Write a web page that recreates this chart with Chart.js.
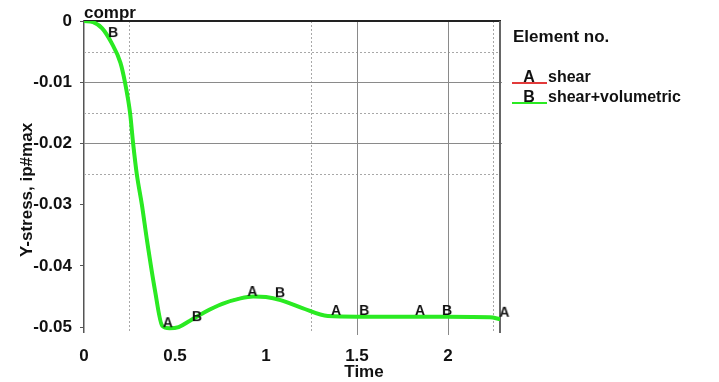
<!DOCTYPE html>
<html>
<head>
<meta charset="utf-8">
<script src="https://cdn.jsdelivr.net/npm/chart.js@4"></script>
<style>
  body { margin: 0; background: #fff; }
  #wrap { position: relative; width: 719px; height: 382px; }
</style>
</head>
<body>
<div id="wrap"><canvas id="chart"></canvas></div>
<script>
// curve values (time, Y-stress)
const timeValues = [0, 0.05, 0.1, 0.15, 0.2, 0.225, 0.253, 0.27, 0.29, 0.318, 0.346, 0.39, 0.43, 0.47, 0.52, 0.58, 0.66, 0.76, 0.86, 0.93, 1.0, 1.08, 1.2, 1.34, 1.5, 1.8, 2.0, 2.23, 2.29];
const stressValues = [0, -0.0002, -0.0012, -0.0035, -0.0068, -0.01, -0.015, -0.02, -0.025, -0.03, -0.0358, -0.044, -0.0498, -0.0502, -0.0500, -0.0490, -0.0476, -0.0462, -0.0453, -0.0450, -0.0451, -0.0456, -0.0469, -0.0482, -0.0483, -0.0483, -0.0483, -0.0484, -0.0487];

// letter markers along the curves
const markerATime = [0.46, 0.925, 1.385, 1.846, 2.31];
const markerAStress = [-0.0492, -0.0441, -0.0472, -0.0472, -0.0475];
const markerBTime = [0.16, 0.62, 1.077, 1.54, 1.995];
const markerBStress = [-0.0018, -0.0482, -0.0443, -0.0472, -0.0472];

const xTicks = [0, 0.5, 1, 1.5, 2];
const xTickLabels = ['0', '0.5', '1', '1.5', '2'];
const yTicks = [0, -0.01, -0.02, -0.03, -0.04, -0.05];
const yTickLabels = ['0', '-0.01', '-0.02', '-0.03', '-0.04', '-0.05'];

const xSolidGrid = [1.5, 2];
const xDotGrid = [0.25, 1.25, 2.25];
const ySolidGrid = [-0.01, -0.02];
const yDotGrid = [-0.005, -0.015, -0.025];

const seriesNames = ['shear', 'shear+volumetric'];
const seriesLetters = ['A', 'B'];

const colors = {
    red: '#e23a3a',
    green: '#2aea22',
    text: '#111111',
    axis: '#555555',
    grid: '#8a8a8a',
    dots: '#a8a8a8'
};
const FONT = '"Liberation Sans", Arial, sans-serif';

// letter used as point style
function letterImage(ch) {
    const c = document.createElement('canvas');
    c.width = 14; c.height = 14;
    const g = c.getContext('2d');
    g.fillStyle = colors.text;
    g.font = 'bold 14px ' + FONT;
    g.textAlign = 'center';
    g.textBaseline = 'middle';
    g.fillText(ch, 7, 8);
    return c;
}

function toPoints(xs, ys) {
    return xs.map((x, i) => ({ x: x, y: ys[i] }));
}

// grid, frame, titles and the legend block
const decorPlugin = {
    id: 'decor',
    beforeDatasetsDraw(chart) {
        const ctx = chart.ctx;
        const a = chart.chartArea;
        const xs = chart.scales.x, ys = chart.scales.y;
        ctx.save();
        ctx.lineWidth = 1;
        ctx.strokeStyle = colors.dots;
        ctx.setLineDash([2, 2]);
        yDotGrid.forEach(v => {
            const y = Math.round(ys.getPixelForValue(v)) + 0.5;
            ctx.beginPath(); ctx.moveTo(a.left, y); ctx.lineTo(a.right, y); ctx.stroke();
        });
        xDotGrid.forEach(v => {
            const x = Math.round(xs.getPixelForValue(v)) + 0.5;
            ctx.beginPath(); ctx.moveTo(x, a.top); ctx.lineTo(x, a.bottom - 1); ctx.stroke();
        });
        ctx.setLineDash([]);
        ctx.strokeStyle = colors.grid;
        ySolidGrid.forEach(v => {
            const y = Math.round(ys.getPixelForValue(v)) + 0.5;
            ctx.beginPath(); ctx.moveTo(a.left, y); ctx.lineTo(a.right + 2, y); ctx.stroke();
        });
        xSolidGrid.forEach(v => {
            const x = Math.round(xs.getPixelForValue(v)) + 0.5;
            ctx.beginPath(); ctx.moveTo(x, a.top); ctx.lineTo(x, a.bottom + 3); ctx.stroke();
        });
        // frame: top black, right grey
        ctx.strokeStyle = '#222';
        ctx.lineWidth = 2;
        ctx.beginPath(); ctx.moveTo(a.left, a.top); ctx.lineTo(a.right + 1, a.top); ctx.stroke();
        ctx.strokeStyle = '#666';
        ctx.beginPath(); ctx.moveTo(a.right, a.top); ctx.lineTo(a.right, a.bottom + 1); ctx.stroke();
        ctx.restore();
    },
    afterDraw(chart) {
        const ctx = chart.ctx;
        const a = chart.chartArea;
        ctx.save();
        ctx.fillStyle = colors.text;
        ctx.font = 'bold 17px ' + FONT;
        ctx.textBaseline = 'middle';

        ctx.textAlign = 'left';
        ctx.fillText('compr', a.left, 13);

        ctx.textAlign = 'center';
        ctx.fillText('Time', 364, 372);

        ctx.save();
        ctx.translate(27, 190);
        ctx.rotate(-Math.PI / 2);
        ctx.fillText('Y-stress, ip#max', 0, 0);
        ctx.restore();

        // legend
        ctx.textAlign = 'left';
        ctx.fillText('Element no.', 513, 37);
        const rowY = [78, 98];
        const lineCols = [colors.red, colors.green];
        ctx.font = 'bold 16px ' + FONT;
        seriesNames.forEach((name, i) => {
            ctx.strokeStyle = lineCols[i];
            ctx.lineWidth = 2;
            ctx.beginPath(); ctx.moveTo(512, rowY[i] + 5); ctx.lineTo(547, rowY[i] + 5); ctx.stroke();
            ctx.fillStyle = colors.text;
            ctx.textAlign = 'center';
            ctx.fillText(seriesLetters[i], 529, rowY[i]);
            ctx.textAlign = 'left';
            ctx.fillText(name, 548, rowY[i]);
        });
        ctx.restore();
    }
};

const ctx = document.getElementById('chart');
new Chart(ctx, {
    type: 'scatter',
    data: {
        datasets: [
            {
                // sits exactly under the green curve, as in the original
                label: seriesNames[0],
                data: toPoints(timeValues, stressValues),
                showLine: true,
                borderColor: colors.red,
                borderWidth: 2.5,
                pointRadius: 0,
                cubicInterpolationMode: 'monotone',
                order: 3
            },
            {
                label: seriesNames[1],
                data: toPoints(timeValues, stressValues),
                showLine: true,
                borderColor: colors.green,
                borderWidth: 4,
                pointRadius: 0,
                cubicInterpolationMode: 'monotone',
                order: 2
            },
            {
                label: 'A',
                data: toPoints(markerATime, markerAStress),
                pointStyle: letterImage('A'),
                clip: false,
                order: 1
            },
            {
                label: 'B',
                data: toPoints(markerBTime, markerBStress),
                pointStyle: letterImage('B'),
                clip: false,
                order: 1
            }
        ]
    },
    options: {
        responsive: true,
        maintainAspectRatio: false,
        animation: false,
        layout: { padding: { left: 0, top: 21, right: 219, bottom: 0 } },
        plugins: {
            legend: { display: false },
            tooltip: { enabled: false }
        },
        scales: {
            x: {
                type: 'linear',
                min: 0,
                max: 2.286,
                afterBuildTicks: s => { s.ticks = xTicks.map(v => ({ value: v })); },
                afterFit: s => { s.height = 50; },
                grid: { display: false },
                border: { display: false },
                ticks: {
                    padding: 6,
                    color: colors.text,
                    font: { family: FONT, size: 17, weight: 'bold' },
                    callback: v => xTickLabels[xTicks.indexOf(v)]
                }
            },
            y: {
                type: 'linear',
                min: -0.0508,
                max: 0,
                afterBuildTicks: s => { s.ticks = yTicks.map(v => ({ value: v })); },
                afterFit: s => { s.width = 84; },
                grid: { drawOnChartArea: false, tickLength: 4, color: colors.axis },
                border: { display: true, color: colors.axis, width: 1.5 },
                ticks: {
                    padding: 8,
                    color: colors.text,
                    font: { family: FONT, size: 17, weight: 'bold' },
                    callback: v => yTickLabels[yTicks.indexOf(v)]
                }
            }
        }
    },
    plugins: [decorPlugin]
});
</script>
</body>
</html>
